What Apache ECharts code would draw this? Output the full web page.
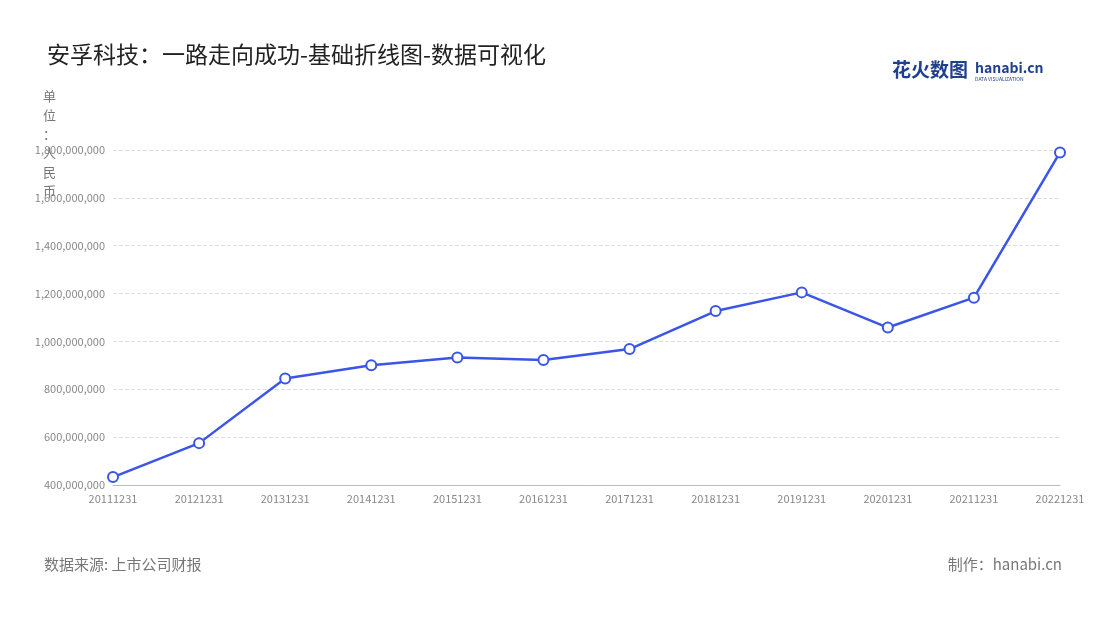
<!DOCTYPE html>
<html><head><meta charset="utf-8">
<script src="https://cdn.jsdelivr.net/npm/echarts@6/dist/echarts.min.js"></script>
<style>html,body{margin:0;padding:0;background:#fff}#c{width:1100px;height:620px}</style>
</head><body><div id="c"></div>
<script>
const categories = ['20111231','20121231','20131231','20141231','20151231','20161231','20171231','20181231','20191231','20201231','20211231','20221231'];
const revenue = [433000000,575000000,845000000,900000000,933000000,922000000,968000000,1127000000,1205000000,1058000000,1183000000,1790000000];
const chart = echarts.init(document.getElementById('c'));
const F = '"Noto Sans CJK SC","Noto Sans",sans-serif';
chart.setOption({
  backgroundColor:'#fff',
  textStyle:{fontFamily:F},
  title:{text:'安孚科技：一路走向成功-基础折线图-数据可视化',left:42,top:38,textStyle:{fontSize:23,fontWeight:'normal',color:'#222',fontFamily:F}},
  graphic:[
    {type:'text',left:43,top:87,style:{text:'单\n位\n：\n人\n民\n币',fill:'#777',font:'13px '+F,lineHeight:19}},
    {type:'text',left:44,top:557,style:{text:'数据来源: 上市公司财报',fill:'#777',font:'15px '+F}},
    {type:'text',right:38,top:557,style:{text:'制作：hanabi.cn',fill:'#777',font:'15px '+F}},
    {type:'text',left:892,top:60,style:{text:'花火数图',fill:'#1f3f8f',font:'bold 19px '+F}},
    {type:'text',left:975,top:61,style:{text:'hanabi.cn',fill:'#1f3f8f',font:'bold 14px '+F}},
    {type:'text',left:975,top:77,style:{text:'DATA VISUALIZATION',fill:'#1f3f8f',font:'5px '+F}}
  ],
  grid:{left:113,right:40,top:150,bottom:135},
  xAxis:{type:'category',data:categories,boundaryGap:false,
    axisLine:{lineStyle:{color:'#bbb'}},axisTick:{show:false},
    axisLabel:{color:'#888',fontSize:11,interval:0}},
  yAxis:{type:'value',min:400000000,max:1800000000,interval:200000000,
    axisLabel:{color:'#888',fontSize:11,formatter:v=>v.toLocaleString('en-US')},
    splitLine:{lineStyle:{type:'dashed',color:'#ddd'}},axisLine:{show:false},axisTick:{show:false}},
  series:[{type:'line',data:revenue,symbol:'circle',symbolSize:10,
    lineStyle:{color:'#3a55e8',width:2.5},
    itemStyle:{color:'#fff',borderColor:'#3a55e8',borderWidth:2}}]
});
</script></body></html>
